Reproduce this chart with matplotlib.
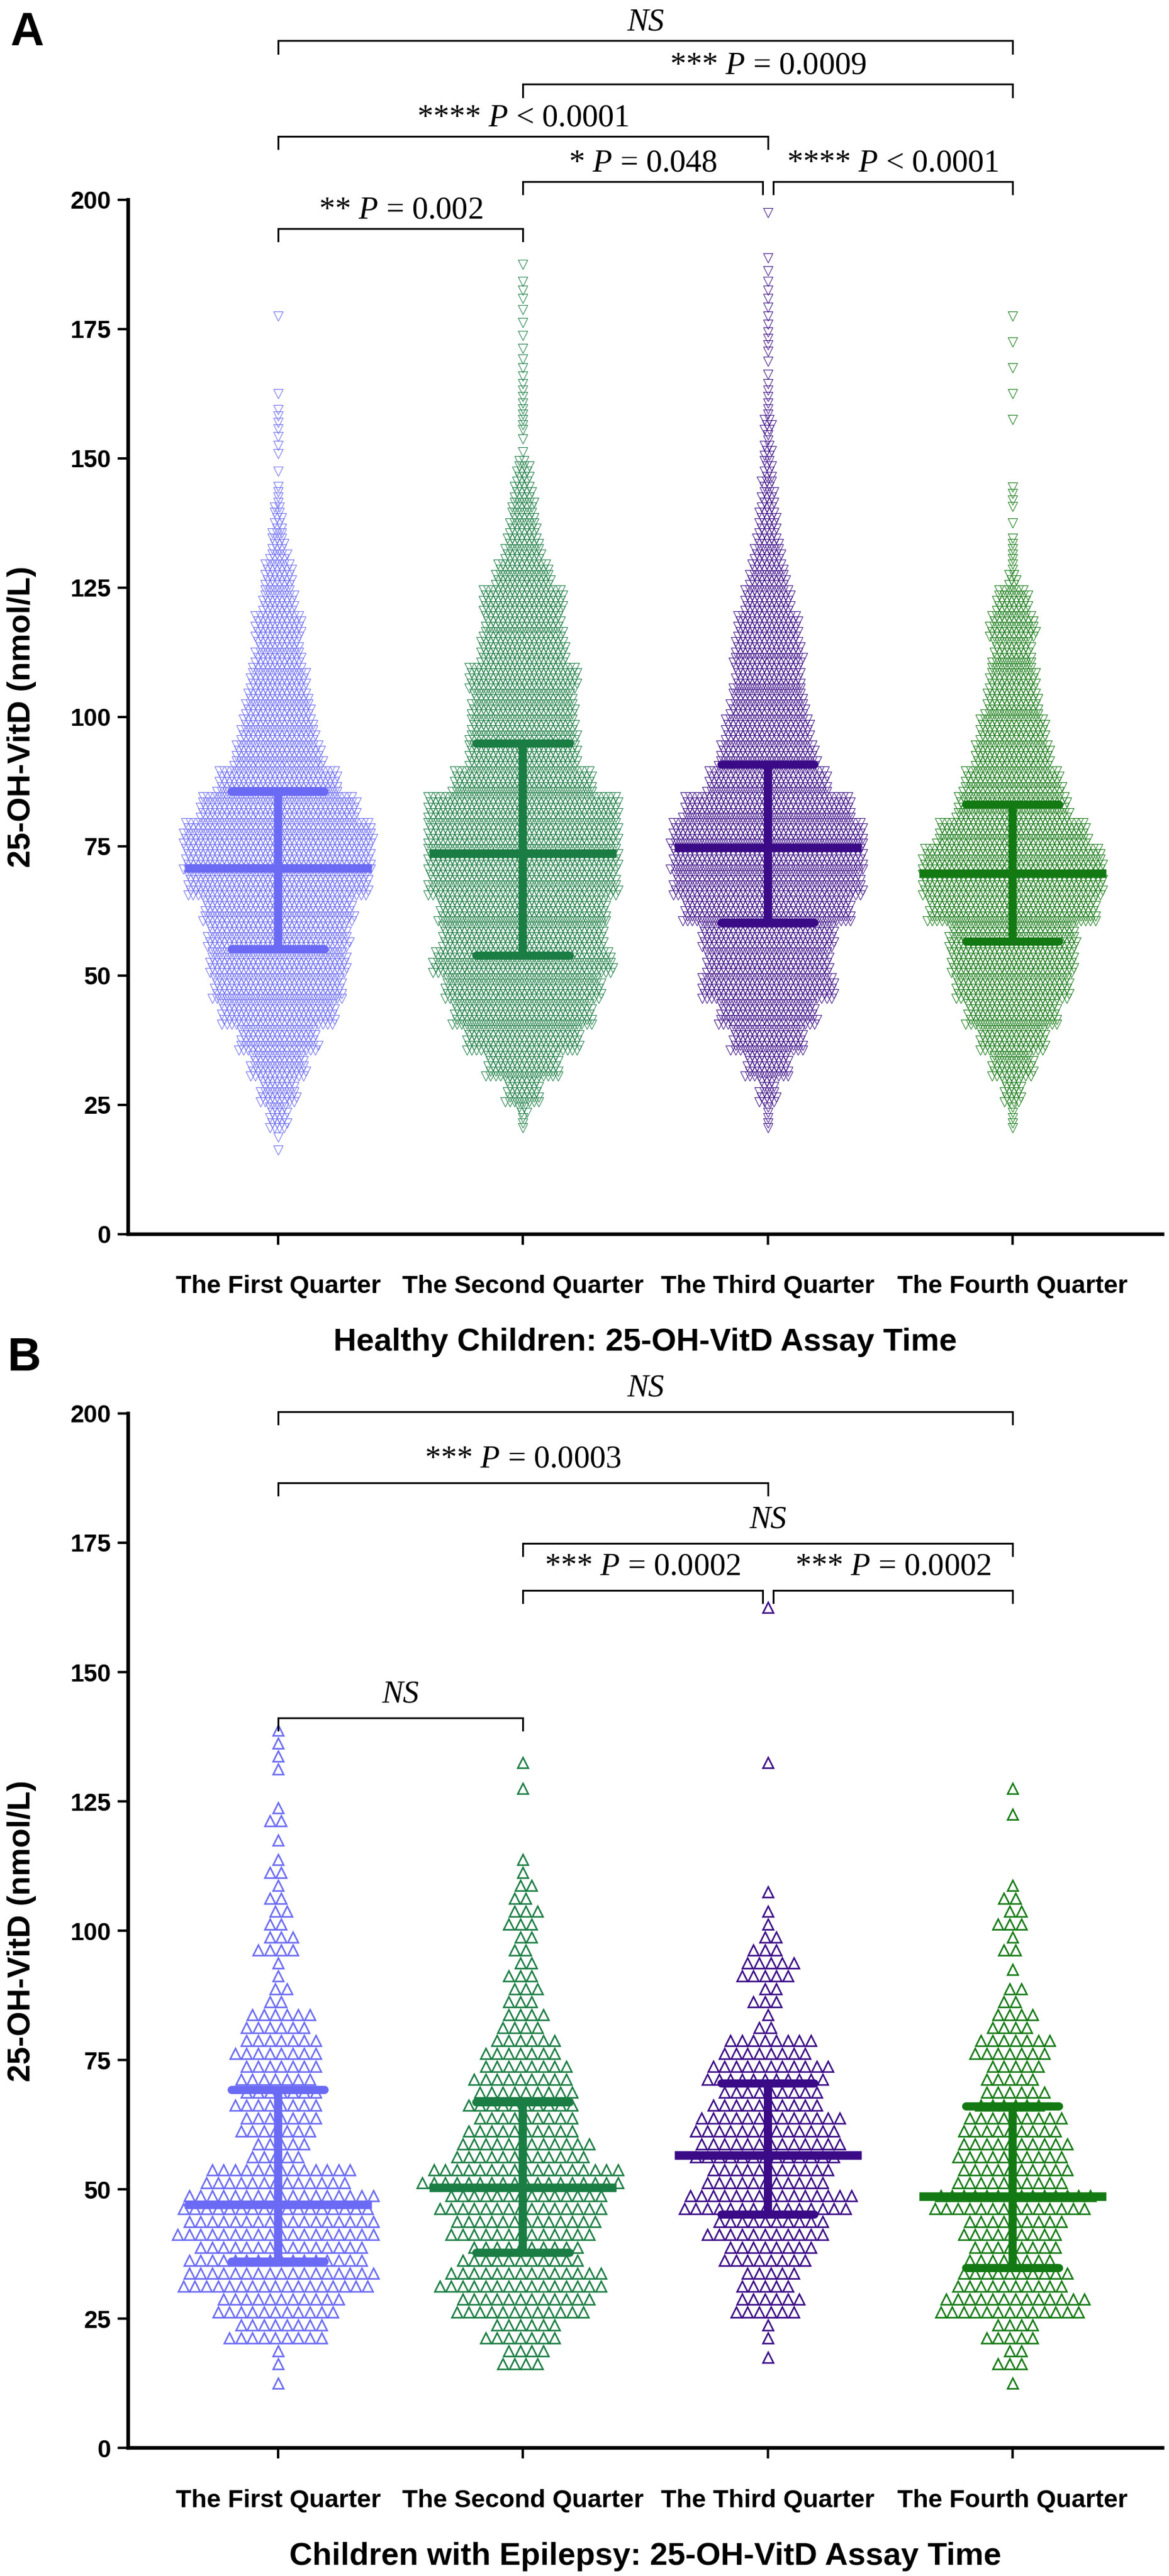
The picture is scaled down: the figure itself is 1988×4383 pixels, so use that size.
import matplotlib.pyplot as plt
import numpy as np

plt.rcParams['font.family'] = ['Liberation Sans', 'DejaVu Sans']
plt.rcParams['mathtext.fontset'] = 'custom'
plt.rcParams['mathtext.rm'] = 'Liberation Serif'
plt.rcParams['mathtext.it'] = 'Liberation Serif:italic'

quarters = ['The First Quarter', 'The Second Quarter', 'The Third Quarter', 'The Fourth Quarter']
colors = ['#6A6AF5', '#1A7D43', '#3A0A87', '#137A13']

# Panel A (healthy children): number of children per 5 nmol/L bin, first bin starts at 15
a_bin_start = 15
a_counts_q1 = [2, 20, 38, 58, 82, 120, 136, 144, 148, 157, 190, 196, 198, 164, 126, 92, 78, 68, 59,
               48, 50, 34, 30, 17, 11, 6, 1, 3, 4, 1, 0, 0, 1]
a_counts_q2 = [0, 7, 36, 76, 120, 146, 164, 188, 170, 176, 198, 200, 200, 200, 146, 115, 112, 108, 115,
               90, 82, 85, 58, 38, 28, 22, 14, 2, 5, 4, 3, 2, 2, 3, 1]
a_counts_q3 = [0, 5, 18, 46, 76, 102, 140, 130, 140, 176, 198, 201, 201, 176, 126, 102, 90, 78, 71,
               72, 65, 50, 38, 28, 20, 14, 11, 8, 8, 4, 2, 4, 3, 3, 2, 0, 1]
a_counts_q4 = [0, 5, 20, 44, 70, 96, 120, 130, 133, 176, 190, 188, 157, 117, 102, 80, 70, 56, 49,
               41, 48, 34, 8, 5, 1, 4, 0, 0, 1, 1, 1, 1, 1]
a_median = [70.8, 73.6, 74.7, 69.8]
a_lower_q = [55.1, 53.8, 60.2, 56.6]
a_upper_q = [85.6, 94.9, 90.8, 83.1]

# Panel B (children with epilepsy): counts per 5 nmol/L bin, first bin starts at 10
b_bin_start = 10
b_counts_q1 = [1, 2, 17, 22, 34, 31, 35, 34, 26, 10, 14, 15, 14, 15, 12, 4, 2, 7, 4, 3, 3, 1, 3, 0, 2, 2]
b_counts_q2 = [0, 8, 13, 24, 29, 21, 26, 29, 35, 24, 19, 19, 17, 13, 8, 6, 5, 4, 6, 4, 2, 0, 0, 1, 1]
b_counts_q3 = [0, 1, 2, 12, 10, 16, 21, 30, 22, 26, 26, 19, 22, 16, 3, 5, 10, 5, 2, 1, 0, 0, 0, 0, 1,
               0, 0, 0, 0, 0, 1]
b_counts_q4 = [1, 5, 9, 26, 20, 16, 18, 28, 20, 20, 18, 12, 10, 14, 8, 4, 1, 3, 5, 3, 0, 0, 1, 1]
b_median = [47.1, 50.3, 56.6, 48.6]
b_lower_q = [36.0, 37.7, 45.1, 34.8]
b_upper_q = [69.2, 66.8, 70.5, 66.0]

# significance brackets: left group, right group, height, label
a_br_left = [0, 1, 2, 0, 1, 0]
a_br_right = [1, 2, 3, 2, 3, 3]
a_br_y = [194.4, 203.5, 203.5, 212.2, 222.3, 230.7]
a_br_text = ['** $P$ = 0.002', '* $P$ = 0.048', '**** $P$ < 0.0001',
             '**** $P$ < 0.0001', '*** $P$ = 0.0009', 'NS']

b_br_left = [0, 1, 2, 1, 0, 0]
b_br_right = [1, 2, 3, 3, 2, 3]
b_br_y = [141.1, 165.8, 165.8, 174.9, 186.6, 200.3]
b_br_text = ['NS', '*** $P$ = 0.0002', '*** $P$ = 0.0002', 'NS', '*** $P$ = 0.0003', 'NS']


def swarm(ax, center, counts, start, rows, dx, color, marker, ms, mew):
    xs, ys = [], []
    for i, c in enumerate(counts):
        if c == 0:
            continue
        lo = start + 5 * i
        nr = min(rows, c)
        per = [c // nr + (1 if j < c % nr else 0) for j in range(nr)]
        # fewer points on the lower sub-rows of the lowest bins so the tail tapers
        if i > 0 and counts[i - 1] == 0:
            per = per[::-1]
        for j, n in enumerate(per):
            y = lo + (j + 0.5) * 5 / nr
            shift = (dx / 4 if j % 2 else -dx / 4) if n > 1 else 0
            for k in range(n):
                xs.append(center + (k - (n - 1) / 2) * dx + shift)
                ys.append(y)
    ax.plot(xs, ys, ls='none', marker=marker, ms=ms, mfc='none', mec=color, mew=mew, zorder=2)


def median_iqr(ax, center, med, lo, hi, color):
    ax.plot([center - 0.382, center + 0.382], [med, med], color=color, lw=10.5,
            solid_capstyle='butt', zorder=3)
    ax.plot([center, center], [lo, hi], color=color, lw=10, solid_capstyle='butt', zorder=3)
    for q in (lo, hi):
        ax.plot([center - 0.19, center + 0.19], [q, q], color=color, lw=10,
                solid_capstyle='round', zorder=3)


def brackets(ax, lefts, rights, ys, texts, text_gap, leg=2.4):
    for i in range(len(ys)):
        x1, x2 = lefts[i], rights[i]
        for j in range(len(ys)):
            if j != i and ys[j] == ys[i]:
                if lefts[j] == rights[i]:
                    x2 -= 0.022
                if rights[j] == lefts[i]:
                    x1 += 0.022
        y = ys[i]
        ax.plot([x1, x1, x2, x2], [y - leg, y, y, y - leg], color='black', lw=2.2,
                clip_on=False, solid_joinstyle='miter', zorder=4)
        if texts[i] == 'NS':
            ax.text((x1 + x2) / 2, y + text_gap, 'NS', ha='center', va='baseline',
                    fontsize=39, family='Liberation Serif', style='italic', clip_on=False)
        else:
            ax.text((x1 + x2) / 2, y + text_gap, texts[i], ha='center', va='baseline',
                    fontsize=39, family='Liberation Serif', clip_on=False)


def style(ax, xlabel):
    ax.set_xlim(-0.613, 3.613)
    ax.set_ylim(0, 200)
    for s in ['top', 'right']:
        ax.spines[s].set_visible(False)
    for s in ['left', 'bottom']:
        ax.spines[s].set_linewidth(4.5)
    ax.set_yticks(np.arange(0, 201, 25))
    ax.set_xticks(range(4))
    ax.set_xticklabels(quarters)
    ax.tick_params(axis='both', length=13, width=3, direction='out')
    ax.tick_params(axis='y', labelsize=30, pad=8)
    ax.tick_params(axis='x', labelsize=31, pad=37)
    for lab in ax.get_xticklabels() + ax.get_yticklabels():
        lab.set_fontweight('bold')
    ax.set_xlabel(xlabel, fontsize=39, fontweight='bold', labelpad=36)
    ax.set_ylabel('25-OH-VitD (nmol/L)', fontsize=39, fontweight='bold')
    ax.yaxis.set_label_coords(-0.0887, 0.5)


fig = plt.figure(figsize=(19.88, 43.83), dpi=100)
ax_a = fig.add_axes([0.1097, 0.5209, 0.8848, 0.4016])
ax_b = fig.add_axes([0.1097, 0.0497, 0.8848, 0.4016])

a_counts = [a_counts_q1, a_counts_q2, a_counts_q3, a_counts_q4]
b_counts = [b_counts_q1, b_counts_q2, b_counts_q3, b_counts_q4]

for g in range(4):
    swarm(ax_a, g, a_counts[g], a_bin_start, 5, 0.0196, colors[g], 'v', 12, 0.75)
    median_iqr(ax_a, g, a_median[g], a_lower_q[g], a_upper_q[g], colors[g])
    swarm(ax_b, g, b_counts[g], b_bin_start, 2, 0.047, colors[g], '^', 13, 1.9)
    median_iqr(ax_b, g, b_median[g], b_lower_q[g], b_upper_q[g], colors[g])

brackets(ax_a, a_br_left, a_br_right, a_br_y, a_br_text, 2.0)
brackets(ax_b, b_br_left, b_br_right, b_br_y, b_br_text, 3.0)

style(ax_a, 'Healthy Children: 25-OH-VitD Assay Time')
style(ax_b, 'Children with Epilepsy: 25-OH-VitD Assay Time')

fig.text(0.0229, 0.9824, 'A', fontsize=57, fontweight='bold', ha='center', va='baseline')
fig.text(0.0206, 0.4679, 'B', fontsize=57, fontweight='bold', ha='center', va='baseline')

fig.savefig('out.png', dpi=100, facecolor='white')
